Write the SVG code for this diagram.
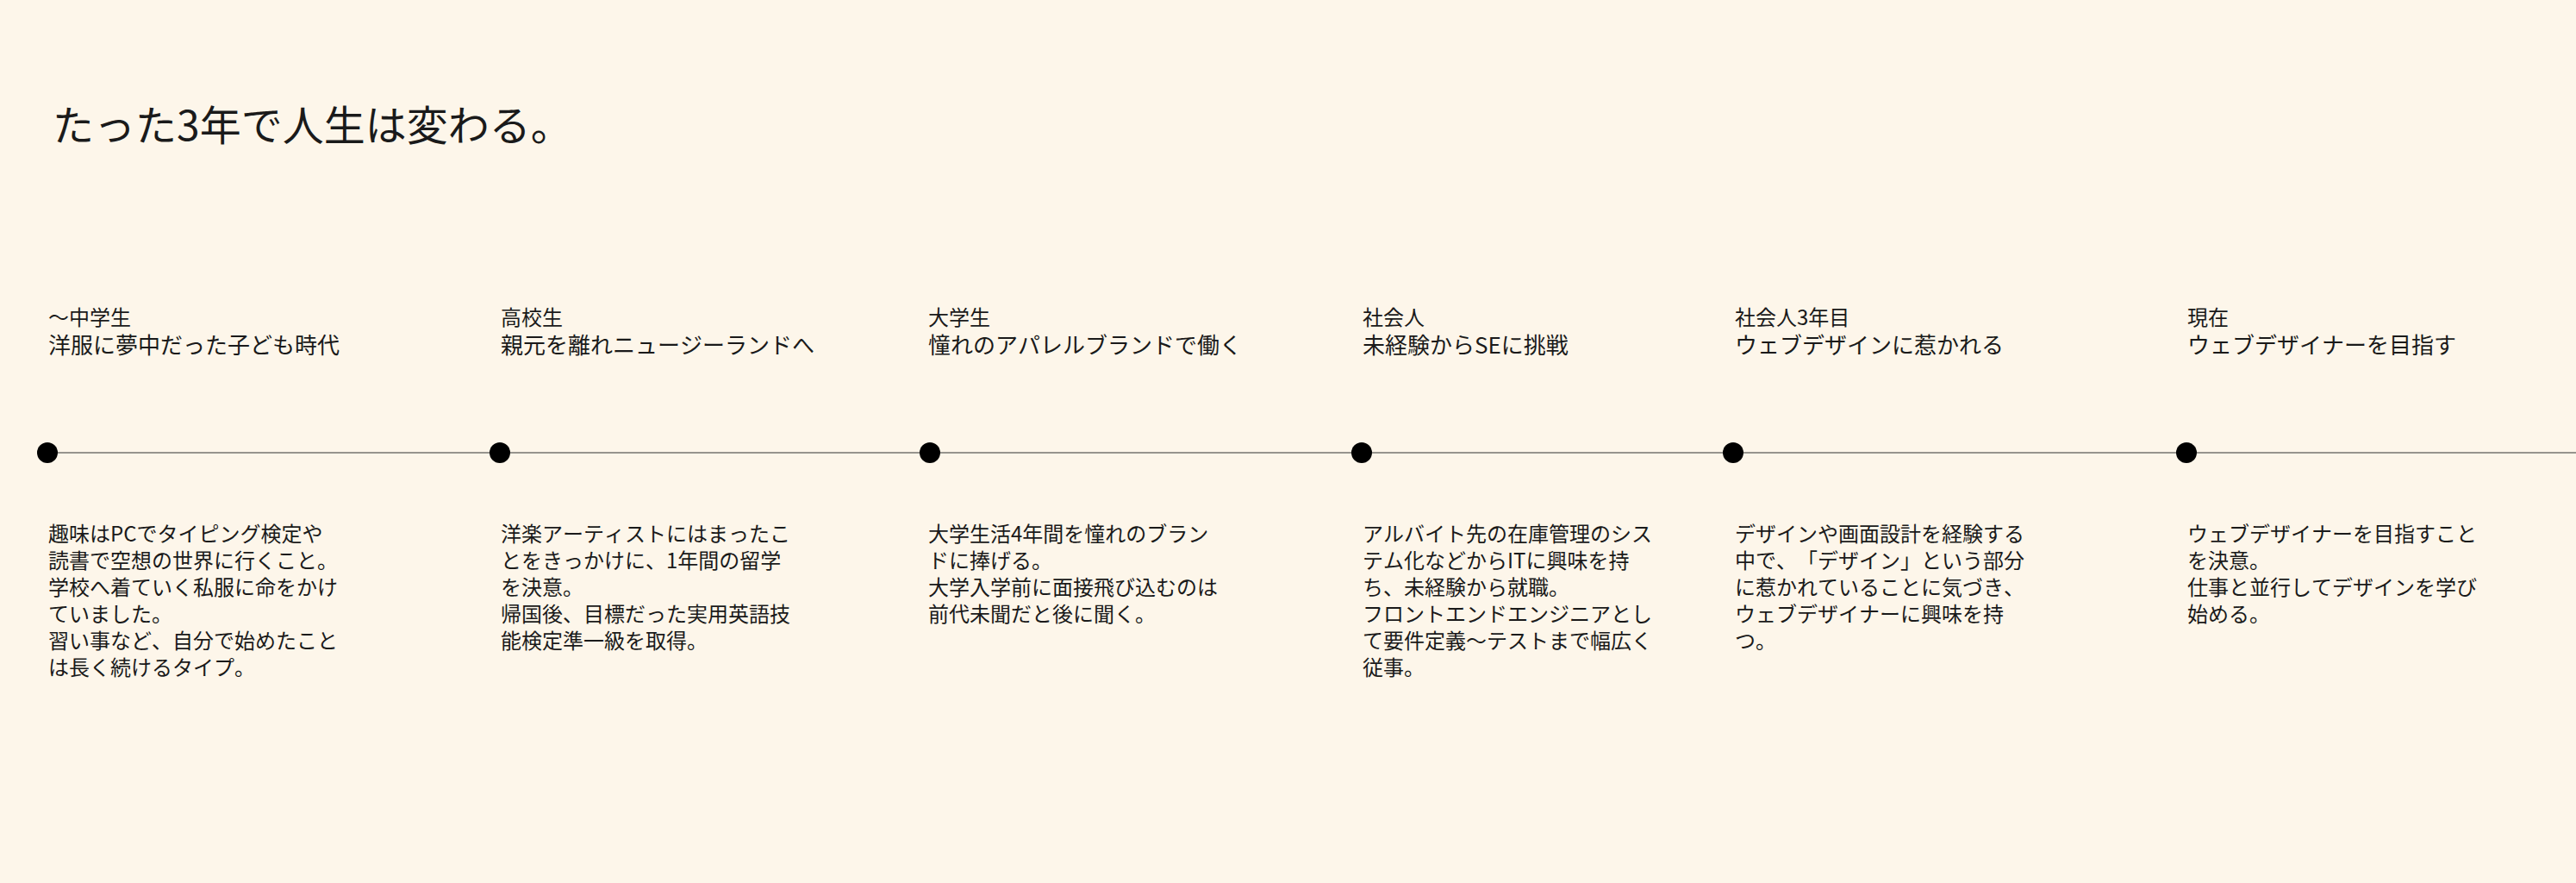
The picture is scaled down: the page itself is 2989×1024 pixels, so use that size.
<svg xmlns="http://www.w3.org/2000/svg" width="2989" height="1024" viewBox="0 0 2989 1024">
<style>
text{font-family:"Noto Sans CJK JP","Noto Sans",sans-serif;fill:#1a1a1a;text-spacing-trim:space-all;font-kerning:none}
.title{font-size:48px}
.h1{font-size:24px}
.h2{font-size:26px}
.body{font-size:24px}
.dot{fill:#000}
.line{stroke:#333;stroke-width:1.2;fill:none}
</style>
<rect width="2989" height="1024" fill="#fdf6ea"/>
<text class="title" x="61" y="163">たった3年で人生は変わる。</text>
<g id="connectors">
<line class="line" x1="55" y1="525" x2="2989" y2="525"/>
</g>
<g id="node1">
<circle class="dot" cx="55" cy="525" r="12"/>
<text class="h1" x="56" y="377">〜中学生</text>
<text class="h2" x="56" y="410">洋服に夢中だった子ども時代</text>
<text class="body" x="56" y="628">趣味はPCでタイピング検定や</text>
<text class="body" x="56" y="659">読書で空想の世界に行くこと。</text>
<text class="body" x="56" y="690">学校へ着ていく私服に命をかけ</text>
<text class="body" x="56" y="721">ていました。</text>
<text class="body" x="56" y="752">習い事など、自分で始めたこと</text>
<text class="body" x="56" y="783">は長く続けるタイプ。</text>
</g>
<g id="node2">
<circle class="dot" cx="580" cy="525" r="12"/>
<text class="h1" x="581" y="377">高校生</text>
<text class="h2" x="581" y="410">親元を離れニュージーランドへ</text>
<text class="body" x="581" y="628">洋楽アーティストにはまったこ</text>
<text class="body" x="581" y="659">とをきっかけに、1年間の留学</text>
<text class="body" x="581" y="690">を決意。</text>
<text class="body" x="581" y="721">帰国後、目標だった実用英語技</text>
<text class="body" x="581" y="752">能検定準一級を取得。</text>
</g>
<g id="node3">
<circle class="dot" cx="1079" cy="525" r="12"/>
<text class="h1" x="1077" y="377">大学生</text>
<text class="h2" x="1077" y="410">憧れのアパレルブランドで働く</text>
<text class="body" x="1077" y="628">大学生活4年間を憧れのブラン</text>
<text class="body" x="1077" y="659">ドに捧げる。</text>
<text class="body" x="1077" y="690">大学入学前に面接飛び込むのは</text>
<text class="body" x="1077" y="721">前代未聞だと後に聞く。</text>
</g>
<g id="node4">
<circle class="dot" cx="1580" cy="525" r="12"/>
<text class="h1" x="1581" y="377">社会人</text>
<text class="h2" x="1581" y="410">未経験からSEに挑戦</text>
<text class="body" x="1581" y="628">アルバイト先の在庫管理のシス</text>
<text class="body" x="1581" y="659">テム化などからITに興味を持</text>
<text class="body" x="1581" y="690">ち、未経験から就職。</text>
<text class="body" x="1581" y="721">フロントエンドエンジニアとし</text>
<text class="body" x="1581" y="752">て要件定義〜テストまで幅広く</text>
<text class="body" x="1581" y="783">従事。</text>
</g>
<g id="node5">
<circle class="dot" cx="2011" cy="525" r="12"/>
<text class="h1" x="2013" y="377">社会人3年目</text>
<text class="h2" x="2013" y="410">ウェブデザインに惹かれる</text>
<text class="body" x="2013" y="628">デザインや画面設計を経験する</text>
<text class="body" x="2013" y="659">中で、「デザイン」という部分</text>
<text class="body" x="2013" y="690">に惹かれていることに気づき、</text>
<text class="body" x="2013" y="721">ウェブデザイナーに興味を持</text>
<text class="body" x="2013" y="752">つ。</text>
</g>
<g id="node6">
<circle class="dot" cx="2537" cy="525" r="12"/>
<text class="h1" x="2538" y="377">現在</text>
<text class="h2" x="2538" y="410">ウェブデザイナーを目指す</text>
<text class="body" x="2538" y="628">ウェブデザイナーを目指すこと</text>
<text class="body" x="2538" y="659">を決意。</text>
<text class="body" x="2538" y="690">仕事と並行してデザインを学び</text>
<text class="body" x="2538" y="721">始める。</text>
</g>
</svg>
